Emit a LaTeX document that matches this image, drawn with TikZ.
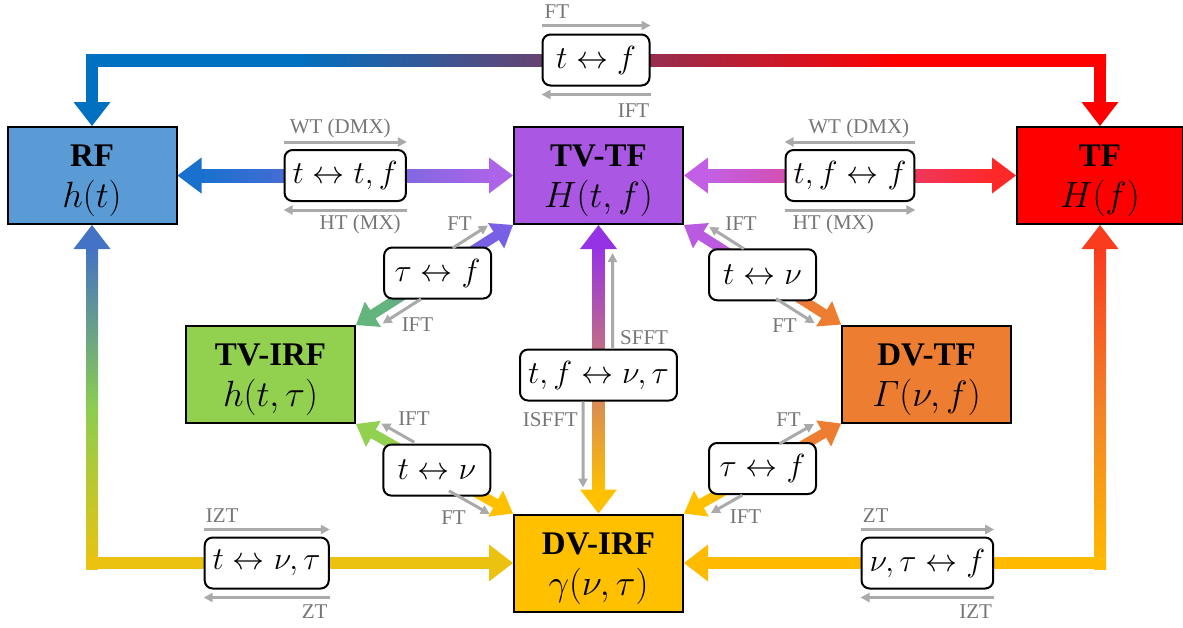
\RequirePackage{fix-cm}
\documentclass[tikz,border=0pt]{standalone}
\usepackage{amsmath}
\usepackage[no-math]{fontspec}
\setmainfont{Liberation Serif}
\usetikzlibrary{calc,arrows.meta}

\definecolor{cRF}{RGB}{91,155,213}
\definecolor{cTVTF}{RGB}{170,87,227}
\definecolor{cTF}{RGB}{255,0,0}
\definecolor{cTVIRF}{RGB}{146,208,80}
\definecolor{cDVTF}{RGB}{237,125,49}
\definecolor{cDVIRF}{RGB}{255,192,0}
\definecolor{gArr}{RGB}{170,170,170}
\definecolor{gTxt}{RGB}{118,118,118}
\definecolor{topBlue}{RGB}{0,112,192}
\definecolor{rowBlue}{RGB}{25,112,205}
\definecolor{rowPurpL}{RGB}{172,100,232}
\definecolor{rowPurpR}{RGB}{195,95,230}
\definecolor{rowRed}{RGB}{255,40,40}
\definecolor{lBlue}{RGB}{68,114,196}
\definecolor{lGreen}{RGB}{140,205,80}
\definecolor{lYel}{RGB}{236,194,16}
\definecolor{rRed}{RGB}{250,60,30}
\definecolor{rOr}{RGB}{242,130,40}
\definecolor{rYel}{RGB}{255,187,0}
\definecolor{cPurp}{RGB}{150,50,230}
\definecolor{dGreen}{RGB}{100,180,125}
\definecolor{dViolet}{RGB}{120,95,230}
\definecolor{dPink}{RGB}{185,90,225}

\pgfdeclarehorizontalshading{topgrad}{100bp}{color(0bp)=(topBlue); color(35.4bp)=(topBlue); color(64.9bp)=(cTF); color(100bp)=(cTF)}

% arrow head: tip, point back along shaft, colour, length, half width
\newcommand\ahead[5]{\fill[#3] (#1) -- ($(#1)!#4!(#2)!#5!90:(#2)$) -- ($(#1)!#4!(#2)!#5!-90:(#2)$) -- cycle;}
% gradient double arrow: a, b, c1, c2, half shaft, head length, head half width, shaft inset
\newcommand\garrow[8]{%
  \pgfmathanglebetweenpoints{\pgfpointanchor{#1}{center}}{\pgfpointanchor{#2}{center}}%
  \pgfmathsetmacro\gaang{\pgfmathresult-90}%
  \shade[bottom color=#3, top color=#4, shading angle=\gaang]
    ($(#1)!#8!(#2)!#5!90:(#2)$) -- ($(#1)!#8!(#2)!#5!-90:(#2)$) --
    ($(#2)!#8!(#1)!#5!90:(#1)$) -- ($(#2)!#8!(#1)!#5!-90:(#1)$) -- cycle;
  \ahead{#1}{#2}{#3}{#6}{#7}%
  \ahead{#2}{#1}{#4}{#6}{#7}%
}
\newcommand\mm[1]{{\fontsize{36.5}{41}\selectfont$#1$}}
\newcommand\strt{\rule{0pt}{33pt}}

\begin{document}
\begin{tikzpicture}[x=1pt,y=-1pt,
  mbox/.style={draw=black, line width=2pt, minimum width=169pt, minimum height=97pt, inner sep=0pt, align=center, font=\fontsize{33}{41}\selectfont},
  lbox/.style={draw=black, line width=2pt, fill=white, rounded corners=8pt, minimum width=107pt, minimum height=51pt, inner xsep=8pt, inner ysep=0pt, font=\fontsize{32}{38}\selectfont},
  garr/.style={draw=gArr, line width=3pt, -{Triangle[length=9pt,width=9pt]}},
  glab/.style={text=gTxt, font=\fontsize{21}{24}\selectfont, inner sep=0pt},
]
\useasboundingbox (0,0) rectangle (1183,627);

% main boxes
\node[mbox, fill=cRF] (rf) at (92,175.5) {\strt\textbf{RF}\\\mm{h(t)}};
\node[mbox, fill=cTVTF] (tvtf) at (598.5,175.5) {\strt\textbf{TV-TF}\\\mm{H(t,f)}};
\node[mbox, fill=cTF, minimum width=166pt] (tf) at (1100,175.5) {\strt\textbf{TF}\\\mm{H(f)}};
\node[mbox, fill=cTVIRF] (tvirf) at (270.5,374.5) {\strt\textbf{TV-IRF}\\\mm{h(t,\tau)}};
\node[mbox, fill=cDVTF] (dvtf) at (926.5,374) {\strt\textbf{DV-TF}\\\mm{\varGamma(\nu,f)}};
\node[mbox, fill=cDVIRF] (dvirf) at (598.5,563) {\strt\textbf{DV-IRF}\\\mm{\gamma(\nu,\tau)}};

% endpoints
\coordinate (topy) at (0,60);
\coordinate (tl) at (rf.north|-topy);
\coordinate (tr) at (tf.north|-topy);
\coordinate (bl) at (rf.south|-dvirf.west);
\coordinate (br) at (tf.south|-dvirf.east);
\coordinate (h1a) at (rf.east);   \coordinate (h1b) at (tvtf.west);
\coordinate (h2a) at (tvtf.east); \coordinate (h2b) at (tf.west);
\coordinate (va) at (tvtf.south); \coordinate (vb) at (dvirf.north);
\coordinate (d1a) at (tvirf.north east); \coordinate (d1b) at (tvtf.south west);
\coordinate (d2a) at (tvtf.south east);  \coordinate (d2b) at (dvtf.north west);
\coordinate (d3a) at (tvirf.south east); \coordinate (d3b) at (dvirf.north west);
\coordinate (d4a) at (dvtf.south west);  \coordinate (d4b) at (dvirf.north east);

% top path RF <-> TF
\fill[topBlue] ($(rf.north)+(-6,-22)$) rectangle ($(tl)+(6,-5)$);
\shade[shading=topgrad] ($(tl)+(-6,-6)$) rectangle ($(tr)+(6,6)$);
\fill[cTF] ($(tr)+(-6,-5)$) rectangle ($(tf.north)+(6,-22)$);
\ahead{rf.north}{tl}{topBlue}{24pt}{18.5pt}
\ahead{tf.north}{tr}{cTF}{24pt}{18.5pt}

% left L path RF <-> DV-IRF
\shade[top color=lBlue, bottom color=lYel, middle color=lGreen] ($(rf.south)+(-6,22)$) rectangle ($(bl)+(6,6)$);
\fill[lYel] ($(bl)+(-6,-6)$) rectangle ($(dvirf.west)+(-22,6)$);
\ahead{rf.south}{bl}{lBlue}{24pt}{18.5pt}
\ahead{dvirf.west}{bl}{lYel}{24pt}{18.5pt}

% right L path TF <-> DV-IRF
\shade[top color=rRed, bottom color=rYel, middle color=rOr] ($(tf.south)+(-6,22)$) rectangle ($(br)+(6,6)$);
\fill[rYel] ($(dvirf.east)+(22,-6)$) rectangle ($(br)+(6,6)$);
\ahead{tf.south}{br}{rRed}{24pt}{18.5pt}
\ahead{dvirf.east}{br}{rYel}{24pt}{18.5pt}

% straight connectors
\garrow{h1a}{h1b}{rowBlue}{rowPurpL}{6.5pt}{24pt}{18pt}{22pt}
\garrow{h2a}{h2b}{rowPurpR}{rowRed}{6.5pt}{24pt}{18pt}{22pt}
\garrow{va}{vb}{cPurp}{cDVIRF}{6pt}{24pt}{18.5pt}{22pt}
\garrow{d1a}{d1b}{dGreen}{dViolet}{5pt}{20pt}{15pt}{18pt}
\garrow{d2a}{d2b}{dPink}{cDVTF}{5pt}{20pt}{15pt}{18pt}
\garrow{d3a}{d3b}{cTVIRF}{cDVIRF}{5pt}{20pt}{15pt}{18pt}
\garrow{d4a}{d4b}{cDVTF}{cDVIRF}{5pt}{20pt}{15pt}{18pt}

% transform boxes
\node[lbox] (bTop) at ($(tl)!0.5!(tr)$) {$t\leftrightarrow f$};
\node[lbox] (bH1) at ($(h1a)!0.5!(h1b)$) {$t\leftrightarrow t,f$};
\node[lbox] (bH2) at ($(h2a)!0.5!(h2b)$) {$t,f\leftrightarrow f$};
\node[lbox] (bV) at ($(va)!0.52!(vb)$) {$t,f\leftrightarrow \nu,\tau$};
\node[lbox] (bD1) at ($(d1a)!0.52!(d1b)$) {$\tau\leftrightarrow f$};
\node[lbox] (bD2) at ($(d2a)!0.5!(d2b)$) {$t\leftrightarrow \nu$};
\node[lbox] (bD3) at ($(d3a)!0.515!(d3b)$) {$t\leftrightarrow \nu$};
\node[lbox] (bD4) at ($(d4a)!0.5!(d4b)$) {$\tau\leftrightarrow f$};
\node[lbox] (bL) at ($(bl)!0.415!(dvirf.west)$) {$t\leftrightarrow \nu,\tau$};
\node[lbox] (bR) at ($(br)!0.415!(dvirf.east)$) {$\nu,\tau\leftrightarrow f$};

% gray direction arrows with labels
\draw[garr] ([yshift=8pt]bTop.north west) coordinate (g1) -- ([yshift=8pt]bTop.north east);
\node[glab, anchor=base west] at ($(g1)+(3,-7)$) {FT};
\draw[garr] ([yshift=-8pt]bTop.south east) coordinate (g2) -- ([yshift=-8pt]bTop.south west);
\node[glab, anchor=base east] at ($(g2)+(-1,23)$) {IFT};

\draw[garr] ([yshift=7pt]bH1.north west) coordinate (g3) -- ([yshift=7pt]bH1.north east);
\node[glab, anchor=base west] at ($(g3)+(6,-9)$) {WT (DMX)};
\draw[garr] ([yshift=-8pt]bH1.south east) coordinate (g4) -- ([yshift=-8pt]bH1.south west);
\node[glab, anchor=base east] at ($(g4)+(-6,19)$) {HT (MX)};

\draw[garr] ([yshift=7pt]bH2.north east) coordinate (g5) -- ([yshift=7pt]bH2.north west);
\node[glab, anchor=base east] at ($(g5)+(-6,-9)$) {WT (DMX)};
\draw[garr] ([yshift=-8pt]bH2.south west) coordinate (g6) -- ([yshift=-8pt]bH2.south east);
\node[glab, anchor=base west] at ($(g6)+(8,19)$) {HT (MX)};

\draw[garr] ([yshift=7pt]bL.north west) coordinate (g7) -- ([yshift=7pt]bL.north east);
\node[glab, anchor=base west] at ($(g7)+(2,-7)$) {IZT};
\draw[garr] ([yshift=-8pt]bL.south east) coordinate (g8) -- ([yshift=-8pt]bL.south west);
\node[glab, anchor=base east] at ($(g8)+(-2,21)$) {ZT};

\draw[garr] ([yshift=7pt]bR.north west) coordinate (g9) -- ([yshift=7pt]bR.north east);
\node[glab, anchor=base west] at ($(g9)+(2,-7)$) {ZT};
\draw[garr] ([yshift=-8pt]bR.south east) coordinate (g10) -- ([yshift=-8pt]bR.south west);
\node[glab, anchor=base east] at ($(g10)+(-2,21)$) {IZT};

\draw[garr] ($(bV.north)+(14,0)$) -- ($(tvtf.south)+(14,28)$);
\node[glab, anchor=base west] at ($(bV.north)+(21.5,-4)$) {SFFT};
\draw[garr] ($(bV.south)+(-15.5,0)$) -- ($(dvirf.north)+(-15.5,-26)$);
\node[glab, anchor=base east] at ($(bV.south)+(-20.5,25)$) {ISFFT};

\draw[garr] ($(d1a)!0.66!(d1b)!13pt!90:(d1b)$) -- ($(d1a)!0.885!(d1b)!13pt!90:(d1b)$);
\draw[garr] ($(d1a)!0.37!(d1b)!13pt!-90:(d1b)$) -- ($(d1a)!0.125!(d1b)!13pt!-90:(d1b)$);
\node[glab] at (459.5,223.5) {FT};
\node[glab] at (417.5,325) {IFT};

\draw[garr] ($(d2a)!0.34!(d2b)!12pt!90:(d2b)$) -- ($(d2a)!0.12!(d2b)!12pt!90:(d2b)$);
\draw[garr] ($(d2a)!0.63!(d2b)!13pt!-90:(d2b)$) -- ($(d2a)!0.877!(d2b)!13pt!-90:(d2b)$);
\node[glab] at (741,223.5) {IFT};
\node[glab] at (784.5,325.5) {FT};

\draw[garr] ($(d3a)!0.33!(d3b)!13pt!90:(d3b)$) -- ($(d3a)!0.12!(d3b)!13pt!90:(d3b)$);
\draw[garr] ($(d3a)!0.63!(d3b)!12pt!-90:(d3b)$) -- ($(d3a)!0.89!(d3b)!12pt!-90:(d3b)$);
\node[glab] at (414,418.5) {IFT};
\node[glab] at (453.5,517.5) {FT};

\draw[garr] ($(d4a)!0.35!(d4b)!13pt!-90:(d4b)$) -- ($(d4a)!0.13!(d4b)!13pt!-90:(d4b)$);
\draw[garr] ($(d4a)!0.67!(d4b)!13pt!90:(d4b)$) -- ($(d4a)!0.87!(d4b)!13pt!90:(d4b)$);
\node[glab] at (788.5,420) {FT};
\node[glab] at (745.5,516.5) {IFT};
\end{tikzpicture}
\end{document}
